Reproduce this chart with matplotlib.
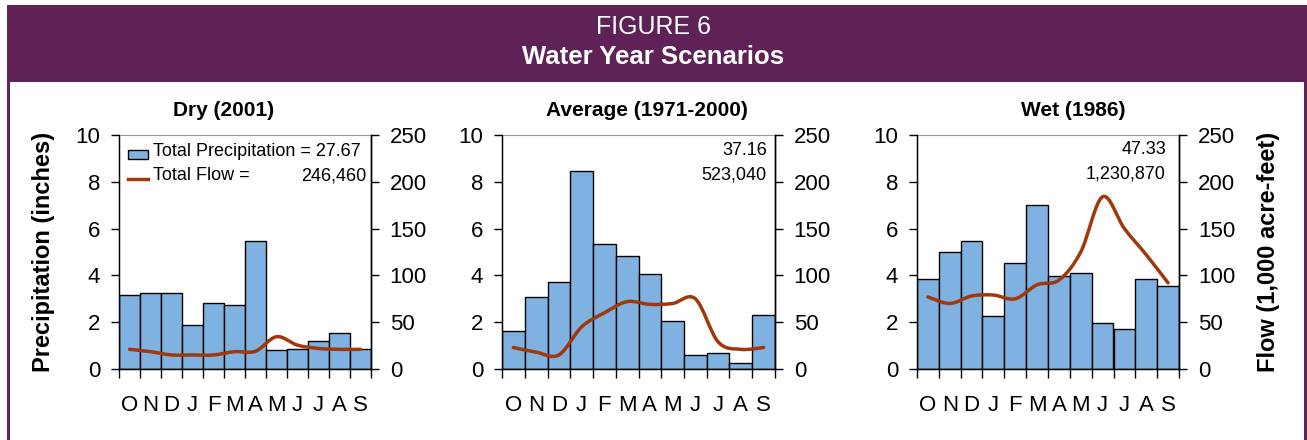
import numpy as np
import matplotlib
matplotlib.use("Agg")
import matplotlib.pyplot as plt
from matplotlib.patches import Rectangle, PathPatch
from matplotlib.path import Path
from matplotlib.lines import Line2D

plt.rcParams['font.family'] = ['Liberation Sans', 'DejaVu Sans']

# date
months = ['O', 'N', 'D', 'J', 'F', 'M', 'A', 'M', 'J', 'J', 'A', 'S']

dry_precip = [3.15, 3.25, 3.25, 1.9, 2.8, 2.75, 5.45, 0.8, 0.85, 1.2, 1.55, 0.85]
dry_flow = [21, 18.5, 15, 15, 15, 18.5, 19, 34.5, 25.5, 22, 21, 21]

avg_precip = [1.64, 3.09, 3.70, 8.45, 5.34, 4.82, 4.04, 2.07, 0.58, 0.68, 0.24, 2.30]
avg_flow = [23, 18, 15, 45, 60, 72, 69, 70, 75, 29, 21, 23]

wet_precip = [3.83, 5.01, 5.47, 2.28, 4.52, 6.99, 3.99, 4.09, 1.95, 1.70, 3.83, 3.56]
wet_flow = [77, 70, 78, 79, 75, 90, 95, 125, 184, 150, 122, 92]

titles = ['Dry (2001)', 'Average (1971-2000)', 'Wet (1986)']
total_precip = ['27.67', '37.16', '47.33']
total_flow = ['246,460', '523,040', '1,230,870']

PURPLE = '#5E2256'
BAR = '#7FB2E0'
LINE = '#A0380E'


# linie netezita (ca in Excel) - curbe Bezier prin punctele lunare
def smooth_path(xs, ys):
  pts = np.column_stack([xs, ys]).astype(float)
  n = len(pts)
  verts = [pts[0]]
  codes = [Path.MOVETO]
  for i in range(n - 1):
    p0 = pts[i - 1] if i > 0 else pts[i]
    p1 = pts[i]
    p2 = pts[i + 1]
    p3 = pts[i + 2] if i + 2 < n else pts[i + 1]
    verts += [p1 + (p2 - p0) / 6, p2 - (p3 - p1) / 6, p2]
    codes += [Path.CURVE4] * 3
  return Path(verts, codes)


fig = plt.figure(figsize=(13.07, 4.40), dpi=100)
W, H = 1307.0, 440.0

# rama mov
fig.add_artist(Rectangle((7 / W, 1 - 82 / H), 1, 77 / H, transform=fig.transFigure,
                         facecolor=PURPLE, edgecolor='none'))
fig.add_artist(Rectangle((7 / W, 0), 3 / W, 1 - 82 / H, transform=fig.transFigure,
                         facecolor=PURPLE, edgecolor='none'))
fig.add_artist(Rectangle((1304 / W, 0), 3 / W, 1 - 82 / H, transform=fig.transFigure,
                         facecolor=PURPLE, edgecolor='none'))
fig.text(0.5, 1 - 26.5 / H, 'FIGURE 6', color='white', fontsize=18, ha='center', va='center')
fig.text(0.5, 1 - 57 / H, 'Water Year Scenarios', color='white', fontsize=18.5,
         fontweight='bold', ha='center', va='center')

# pozitii axe (pixeli)
boxes = [(119, 252), (502, 273), (917, 262)]
title_x = [224, 647, 1073]
num_pos = [(0.988, 0.929, 0.826), (0.97, 0.935, 0.83), (0.95, 0.936, 0.832)]

precips = [dry_precip, avg_precip, wet_precip]
flows = [dry_flow, avg_flow, wet_flow]
x = np.arange(12)

for k in range(3):
  left, width = boxes[k]
  ax = fig.add_axes([left / W, 71 / H, width / W, 234 / H])
  ax.bar(x, precips[k], width=1, color=BAR, edgecolor='black', linewidth=1)
  ax.set_xlim(-0.5, 11.5)
  ax.set_ylim(0, 10)
  ax.set_yticks(range(0, 11, 2))
  ax.set_xticks(np.arange(-0.5, 12, 1))
  ax.set_xticklabels([])
  ax.set_xticks(x, minor=True)
  ax.set_xticklabels(months, minor=True)
  ax.tick_params(axis='x', which='major', direction='out', length=6.5, width=1)
  ax.tick_params(axis='x', which='minor', length=0, pad=19, labelsize=16)
  ax.tick_params(axis='y', direction='out', length=5.5, width=1, pad=8, labelsize=16)
  ax.spines['top'].set_color('#999999')
  ax.spines['top'].set_linewidth(0.8)
  for s in ['left', 'right', 'bottom']:
    ax.spines[s].set_linewidth(1)

  ax2 = ax.twinx()
  ax2.set_ylim(0, 250)
  ax2.set_yticks(range(0, 251, 50))
  ax2.tick_params(axis='y', direction='out', length=5.5, width=1, pad=8, labelsize=16)
  ax2.spines['top'].set_visible(False)
  ax2.spines['right'].set_linewidth(1)
  ax2.add_patch(PathPatch(smooth_path(x, flows[k]), fill=False, edgecolor=LINE,
                          linewidth=2.5, capstyle='round', joinstyle='round'))

  fig.text(title_x[k] / W, 1 - 110.5 / H, titles[k], fontsize=15, fontweight='bold',
           ha='center', va='center')

  nx, ny1, ny2 = num_pos[k]
  if k == 0:
    # legenda facuta manual
    ax.add_patch(Rectangle((0.036, 0.896), 0.079, 0.040, transform=ax.transAxes,
                           facecolor=BAR, edgecolor='black', linewidth=1, clip_on=False))
    ax.add_line(Line2D([0.036, 0.115], [0.811, 0.811], transform=ax.transAxes,
                       color=LINE, linewidth=2.5))
    ax.text(0.136, ny1, 'Total Precipitation = ' + total_precip[k], transform=ax.transAxes,
            fontsize=13, ha='left', va='center')
    ax.text(0.136, ny2, 'Total Flow =', transform=ax.transAxes,
            fontsize=13, ha='left', va='center')
    ax.text(nx - 0.005, ny2, total_flow[k], transform=ax.transAxes,
            fontsize=13, ha='right', va='center')
  else:
    ax.text(nx, ny1, total_precip[k], transform=ax.transAxes, fontsize=13, ha='right', va='center')
    ax.text(nx, ny2, total_flow[k], transform=ax.transAxes, fontsize=13, ha='right', va='center')

fig.text(44 / W, 1 - 252 / H, 'Precipitation (inches)', rotation=90, fontsize=17,
         fontweight='bold', ha='center', va='center')
fig.text(1268 / W, 1 - 252 / H, 'Flow (1,000 acre-feet)', rotation=90, fontsize=17,
         fontweight='bold', ha='center', va='center')

fig.savefig('out.png', dpi=100)
